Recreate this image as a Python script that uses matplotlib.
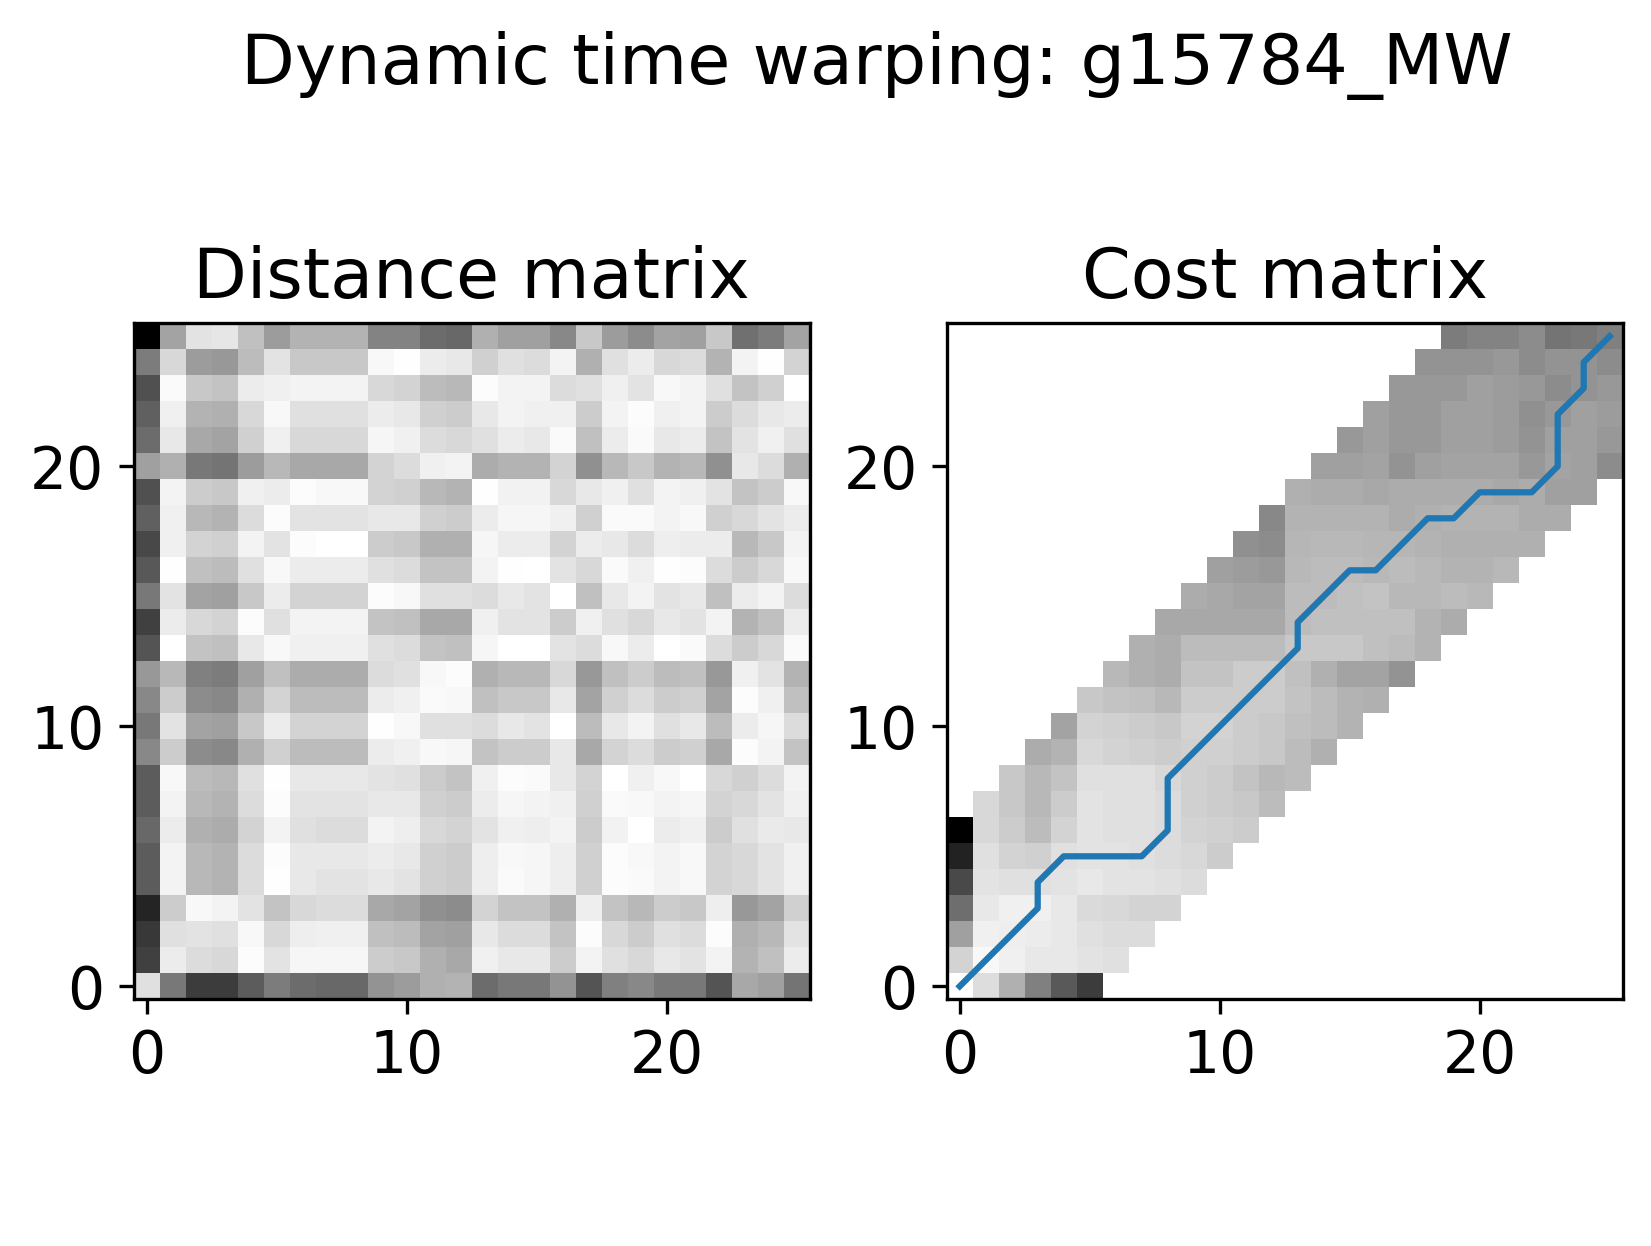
import numpy as np
import matplotlib
matplotlib.use("Agg")
import matplotlib.pyplot as plt

plt.rcParams['font.size'] = 14

title = "Dynamic time warping: g15784_MW"
panel_titles = ["Distance matrix", "Cost matrix"]
ticks = [0, 10, 20]

# distance matrix, grey level read per cell (00 = black, ff = white), row 0 first
dist_rows = [
    "e0 78 3c 3c 5c 7c 6c 68 68 94 9c b0 b4 6c 78 78 94 54 80 88 78 78 54 a8 a0 74",
    "40 ec dc d8 fc e4 f6 f6 f6 cc c8 b0 a8 f0 e8 e8 cc f4 e0 d8 e8 e4 f4 b4 c0 ec",
    "38 e0 e4 e0 f8 d8 ee f0 f0 c0 bc a4 a0 e8 dc dc c4 fc d8 cc e0 dc fc b0 b8 e4",
    "24 cc f8 f4 e4 c4 d8 dc dc a8 a4 90 8c d4 c4 c4 b0 ee c4 b8 cc c8 ee 98 a4 d0",
    "5c f4 b8 b4 dc fe e8 e4 e4 e8 e4 d0 cc ee fa f6 ee d0 fc fa f4 f8 d4 d8 e4 f0",
    "5c f4 b8 b4 dc fc e8 e8 e8 ec e8 d0 cc ee f8 f6 ee d0 fc f8 f4 f8 d4 d8 e4 f0",
    "68 ec b0 ac d4 f4 e0 dc dc f4 ee d8 d4 e4 f0 ee f4 cc f2 ff ec f0 cc e0 ea e8",
    "5c f4 b8 b4 dc fc e4 e4 e4 e8 e8 d0 cc ec f6 f4 f0 d0 fa f8 f4 f6 d4 d8 e4 f0",
    "5c f8 bc b8 e0 fe e8 e8 e8 e4 e0 cc c4 f0 fc fa e8 d4 ff f0 f8 ff d8 d0 dc f4",
    "88 cc 8c 88 b0 d0 bc bc bc ec f0 f8 f6 c4 cc cc e8 a8 d4 dc cc d0 a8 fc f4 c4",
    "78 e4 a4 a0 c8 ec d4 d4 d4 fe f8 e0 e0 dc e8 e4 ff bc e8 f4 e0 e8 bc ec f6 dc",
    "88 cc 8c 88 b0 d4 bc bc bc ec f0 fa f8 c0 c8 c8 e8 a4 d0 dc cc d0 a4 fc f0 c0",
    "98 b8 80 7c a0 c0 ac ac ac dc e0 f8 fc b0 b8 b8 d8 98 c0 cc bc c0 98 f0 e4 b4",
    "54 ff c4 c0 e8 f8 f0 f0 f0 e0 dc c4 c0 f6 ff ff e4 dc f8 ec ff fa dc cc d8 fa",
    "40 ec d8 d4 fc e0 f4 f4 f4 c4 c0 a8 a8 f0 e4 e4 cc f0 e0 d8 e8 e4 f4 b4 c0 ec",
    "78 e4 a4 a0 c8 ec d4 d4 d4 fc f8 e0 e0 dc e8 e4 ff c0 e8 f4 e4 e8 c0 ec f4 dc",
    "58 fe c0 bc e0 f8 ec ec ec e0 dc c4 c4 f4 fe ff e4 d8 fa f0 fe fc dc cc d8 f8",
    "48 f0 d4 d0 f4 e4 fc ff ff cc c8 b0 b0 f6 ec ec d4 ec e8 dc ee ec ec b8 c8 f4",
    "60 f0 b8 b4 dc fc e4 e4 e4 e8 e8 d0 cc ec f6 f6 f0 d0 fa fa f4 f8 d0 d8 e4 ec",
    "50 f4 cc c8 f0 ec fc f8 f8 d4 d0 b8 b4 fe f2 f2 d8 e8 f0 e0 f4 f0 e4 c4 cc f8",
    "a0 b0 78 74 9c b8 a8 a8 a8 d4 dc f0 f4 ac b4 b4 d4 90 b8 c8 b4 b8 90 e8 dc b0",
    "6c e8 a8 a4 d0 f0 d8 d8 d8 f6 f0 dc d8 e0 ec e8 fa c0 ec fa e8 ec c4 e4 f0 e0",
    "60 f0 b4 b0 d8 f8 e0 e0 e0 ec e8 d0 cc e8 f4 f0 f0 cc f4 fc f0 f4 cc dc e8 ec",
    "50 fa c8 c4 ec f0 f4 f4 f4 d8 d4 bc b8 fc f4 f4 dc e0 f0 e4 f8 f4 e0 c4 d0 ff",
    "7c d8 9c 98 bc e4 c8 c8 c8 f8 fe ec e8 d0 e0 dc f4 b0 e0 ec d8 dc b4 f4 fe d4",
    "00 a4 e4 e6 c0 9c b4 b4 b4 84 84 6c 68 b0 a0 a0 88 c8 9c 8c a4 a0 c8 70 7c a4",
]

# cost matrix: only a band is filled; first filled column of each row + grey levels
cost_first_col = [0, 0, 0, 0, 0, 0, 0, 1, 2, 3, 4, 5, 6, 7, 8, 9, 10, 11, 12, 13,
                  14, 15, 16, 17, 18, 19]
cost_rows = [
    "ff dd b0 80 5a 3c",
    "d4 f8 f0 e8 e8 e4 e0",
    "a0 f0 ee ec e8 e0 dc dc",
    "6e e8 f0 f0 e8 da d8 d4 d4",
    "4a e4 e0 e0 e4 e8 e4 e4 e0 dc",
    "22 e0 d4 d0 e0 e4 e4 e0 dc d8 cc",
    "00 d8 cc bc d4 e4 e0 e0 dc d4 d0 cc",
    "d8 c8 b8 cc e4 e0 e0 dc d0 cc c8 bc",
    "c8 b8 c4 e0 e0 e0 d8 d0 cc c4 b8 bc",
    "ac b4 d8 d4 d0 cc d0 d0 cc c8 bc b0",
    "a4 d4 d0 cc c8 d4 d4 cc c8 c0 bc b4",
    "c8 c4 c0 b8 cc cc cc cc c4 bc b4 b0",
    "b8 b0 ac c4 c4 cc cc c0 b0 a4 a4 94",
    "b0 ac bc bc bc bc c8 c8 c8 c0 bc b4",
    "a8 a8 a8 a8 a8 bc c0 c0 c0 c0 b4 ac",
    "ac a8 a4 a4 bc bc c0 c4 b8 b8 bc b8",
    "a0 9c 98 b8 bc bc b8 bc b8 b4 b4 b8",
    "90 8c b6 b8 b8 b6 b6 b4 b0 b0 b0 b0",
    "88 b4 b4 b4 b4 ac b0 b4 b4 b4 ac ac",
    "b0 ac ac a8 ac ac ac ac a8 ac a0 a0",
    "a0 a0 a4 94 a0 a4 a4 a4 98 a4 a0 8c",
    "98 a0 98 98 a0 a0 9c 94 a0 a0 98",
    "a0 98 98 a0 a0 9c 90 98 a0 9c",
    "98 98 98 a0 9c 98 8c 94 98",
    "94 94 94 98 8c 94 94 8c",
    "7c 84 84 8c 74 78 80",
]

# warping path (column, row)
path_x = [0, 1, 2, 3, 3, 4, 5, 6, 7, 8, 8, 8, 9, 10, 11, 12, 13, 13, 14, 15, 16,
          17, 18, 19, 20, 21, 22, 23, 23, 23, 24, 24, 25]
path_y = [0, 1, 2, 3, 4, 5, 5, 5, 5, 6, 7, 8, 9, 10, 11, 12, 13, 14, 15, 16, 16,
          17, 18, 18, 19, 19, 19, 20, 21, 22, 23, 24, 25]

dist = np.array([list(bytes.fromhex(r)) for r in dist_rows], dtype=float)
n = dist.shape[0]
cost = np.full((n, n), np.nan)
for i, (c0, r) in enumerate(zip(cost_first_col, cost_rows)):
    vals = list(bytes.fromhex(r))
    cost[i, c0:c0 + len(vals)] = vals

fig = plt.figure(figsize=(1651 / 300, 1246 / 300), dpi=300)
W, H = 1651, 1246
ax1 = fig.add_axes([133.5 / W, (H - 999.3) / H, 676 / W, 676 / H])
ax2 = fig.add_axes([946.7 / W, (H - 999.3) / H, 676 / W, 676 / H])

ax1.imshow(dist, cmap='gray', vmin=0, vmax=255, origin='lower',
           interpolation='nearest', aspect='auto')
ax2.imshow(cost, cmap='gray', vmin=0, vmax=255, origin='lower',
           interpolation='nearest', aspect='auto')
ax2.plot(path_x, path_y, color='#1f77b4', lw=1.5)

for ax, t in zip([ax1, ax2], panel_titles):
    ax.set_xlim(-0.5, n - 0.5)
    ax.set_ylim(-0.5, n - 0.5)
    ax.set_xticks(ticks)
    ax.set_yticks(ticks)
    ax.set_title(t)

fig.suptitle(title, x=0.531, y=1 - 84 / H, va='baseline')
fig.savefig("out.png", dpi=300)
